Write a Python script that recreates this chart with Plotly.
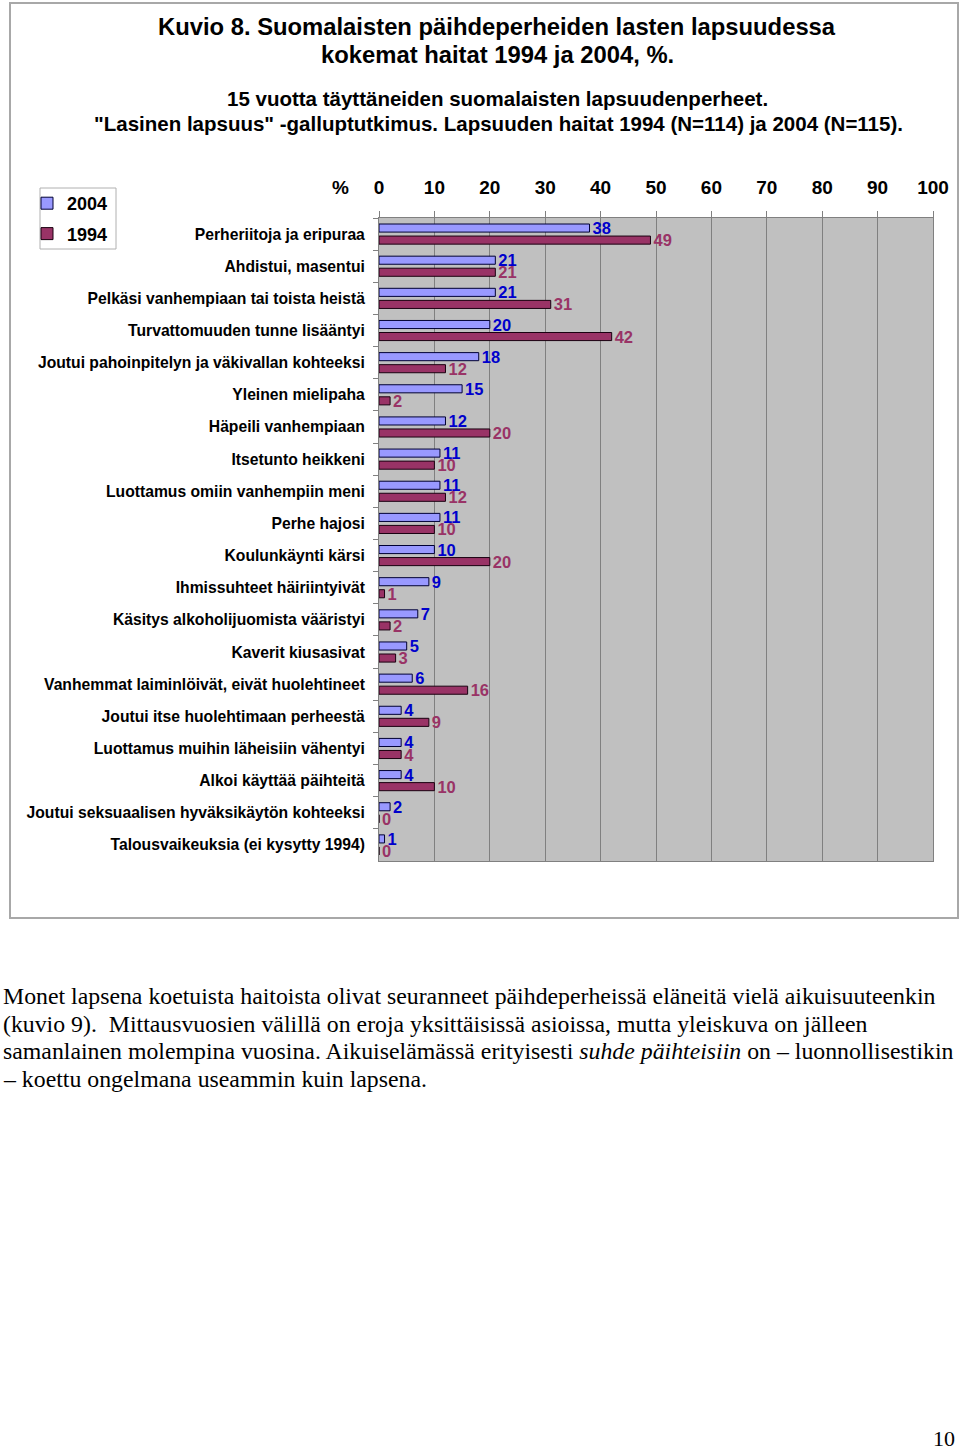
import plotly.graph_objects as go

categories = [
    "Perheriitoja ja eripuraa",
    "Ahdistui, masentui",
    "Pelkäsi vanhempiaan tai toista heistä",
    "Turvattomuuden tunne lisääntyi",
    "Joutui pahoinpitelyn ja väkivallan kohteeksi",
    "Yleinen mielipaha",
    "Häpeili vanhempiaan",
    "Itsetunto heikkeni",
    "Luottamus omiin vanhempiin meni",
    "Perhe hajosi",
    "Koulunkäynti kärsi",
    "Ihmissuhteet häiriintyivät",
    "Käsitys alkoholijuomista vääristyi",
    "Kaverit kiusasivat",
    "Vanhemmat laiminlöivät, eivät huolehtineet",
    "Joutui itse huolehtimaan perheestä",
    "Luottamus muihin läheisiin vähentyi",
    "Alkoi käyttää päihteitä",
    "Joutui seksuaalisen hyväksikäytön kohteeksi",
    "Talousvaikeuksia (ei kysytty 1994)",
]
values_2004 = [38, 21, 21, 20, 18, 15, 12, 11, 11, 11, 10, 9, 7, 5, 6, 4, 4, 4, 2, 1]
values_1994 = [49, 21, 31, 42, 12, 2, 20, 10, 12, 10, 20, 1, 2, 3, 16, 9, 4, 10, 0, 0]
x_ticks = [0, 10, 20, 30, 40, 50, 60, 70, 80, 90, 100]

W, H = 960, 1451
def px(x):
    return x / W
def py(y):
    return 1 - y / H

SANS = "Liberation Sans, Arial, sans-serif"
SERIF = "Liberation Serif, Times New Roman, serif"

fig = go.Figure()
fig.add_trace(go.Bar(
    name="2004", y=categories, x=values_2004, orientation="h",
    marker=dict(color="#9999FF", line=dict(color="#000033", width=1)),
    text=values_2004, textposition="outside", constraintext="none", cliponaxis=False,
    textfont=dict(family=SANS, size=16.5, color="#0000CC", weight="bold"),
    legendgroup="a",
))
fig.add_trace(go.Bar(
    name="1994", y=categories, x=values_1994, orientation="h",
    marker=dict(color="#993366", line=dict(color="#1a0010", width=1)),
    text=values_1994, textposition="outside", constraintext="none", cliponaxis=False,
    textfont=dict(family=SANS, size=16.5, color="#993366", weight="bold"),
    legendgroup="b",
))

annotations = [
    dict(text="Kuvio 8. Suomalaisten päihdeperheiden lasten lapsuudessa", x=px(497), y=py(26),
         font=dict(family=SANS, size=23.8, color="black", weight="bold")),
    dict(text="kokemat haitat 1994 ja 2004, %.", x=px(497), y=py(55),
         font=dict(family=SANS, size=23.8, color="black", weight="bold")),
    dict(text="15 vuotta täyttäneiden suomalaisten lapsuudenperheet.", x=px(497), y=py(98),
         font=dict(family=SANS, size=20.5, color="black", weight="bold")),
    dict(text="\"Lasinen lapsuus\" -galluptutkimus. Lapsuuden haitat 1994 (N=114) ja 2004 (N=115).",
         x=px(498), y=py(124),
         font=dict(family=SANS, size=20.5, color="black", weight="bold")),
    dict(text="%", x=px(340), y=py(187),
         font=dict(family=SANS, size=19, color="black", weight="bold")),
]
for a in annotations:
    a.update(xref="paper", yref="paper", showarrow=False, xanchor="center", yanchor="middle")

body = [
    ("Monet lapsena koetuista haitoista olivat seuranneet päihdeperheissä eläneitä vielä aikuisuuteenkin", 996),
    ("(kuvio 9).  Mittausvuosien välillä on eroja yksittäisissä asioissa, mutta yleiskuva on jälleen", 1024),
    ("samanlainen molempina vuosina. Aikuiselämässä erityisesti <i>suhde päihteisiin</i> on – luonnollisestikin", 1051),
    ("– koettu ongelmana useammin kuin lapsena.", 1079),
]
for t, yy in body:
    annotations.append(dict(text=t, x=px(1), y=py(yy), xref="paper", yref="paper", showarrow=False,
                            xanchor="left", yanchor="middle",
                            font=dict(family=SERIF, size=23.8, color="black")))
annotations.append(dict(text="10", x=px(957), y=py(1438), xref="paper", yref="paper", showarrow=False,
                        xanchor="right", yanchor="middle",
                        font=dict(family=SERIF, size=22, color="black")))

fig.update_layout(
    width=W, height=H,
    margin=dict(l=0, r=0, t=0, b=0, autoexpand=False),
    paper_bgcolor="white", plot_bgcolor="#C0C0C0",
    barmode="group", bargap=0.25, bargroupgap=0.33,
    font=dict(family=SANS, color="black"),
    showlegend=True,
    legend=dict(x=px(27), y=py(185), xanchor="left", yanchor="top",
                bgcolor="rgba(0,0,0,0)", borderwidth=0,
                font=dict(family=SANS, size=18, color="black", weight="bold"),
                traceorder="grouped", tracegroupgap=4, itemwidth=30),
    annotations=annotations,
    shapes=[
        dict(type="rect", xref="paper", yref="paper",
             x0=px(10), x1=px(958), y0=py(918), y1=py(3),
             line=dict(color="#A8A8A8", width=2), fillcolor="rgba(0,0,0,0)", layer="below"),
        dict(type="rect", xref="paper", yref="paper",
             x0=px(40), x1=px(116), y0=py(249), y1=py(188),
             line=dict(color="#B0B0B0", width=1), fillcolor="white", layer="below"),
    ],
    xaxis=dict(domain=[px(379), px(933)], range=[0, 100], side="top",
               tickvals=x_ticks, ticks="outside", ticklen=6, tickcolor="#808080",
               ticklabelstandoff=9,
               tickfont=dict(family=SANS, size=19, color="black", weight="bold"),
               showgrid=True, gridcolor="#808080", gridwidth=1, zeroline=False,
               showline=True, linecolor="#808080", mirror=True, fixedrange=True),
    yaxis=dict(domain=[py(861), py(218)], type="category", categoryarray=categories,
               categoryorder="array", autorange="reversed", tickson="boundaries",
               ticks="outside", ticklen=5, tickcolor="#808080", ticklabelstandoff=10,
               tickfont=dict(family=SANS, size=15.7, color="black", weight="bold"),
               showgrid=False, showline=True, linecolor="#808080", mirror=True),
)

fig.write_html("out.html", config={"displayModeBar": False},
               post_script="document.body.style.margin='0';document.body.style.overflow='hidden';")
